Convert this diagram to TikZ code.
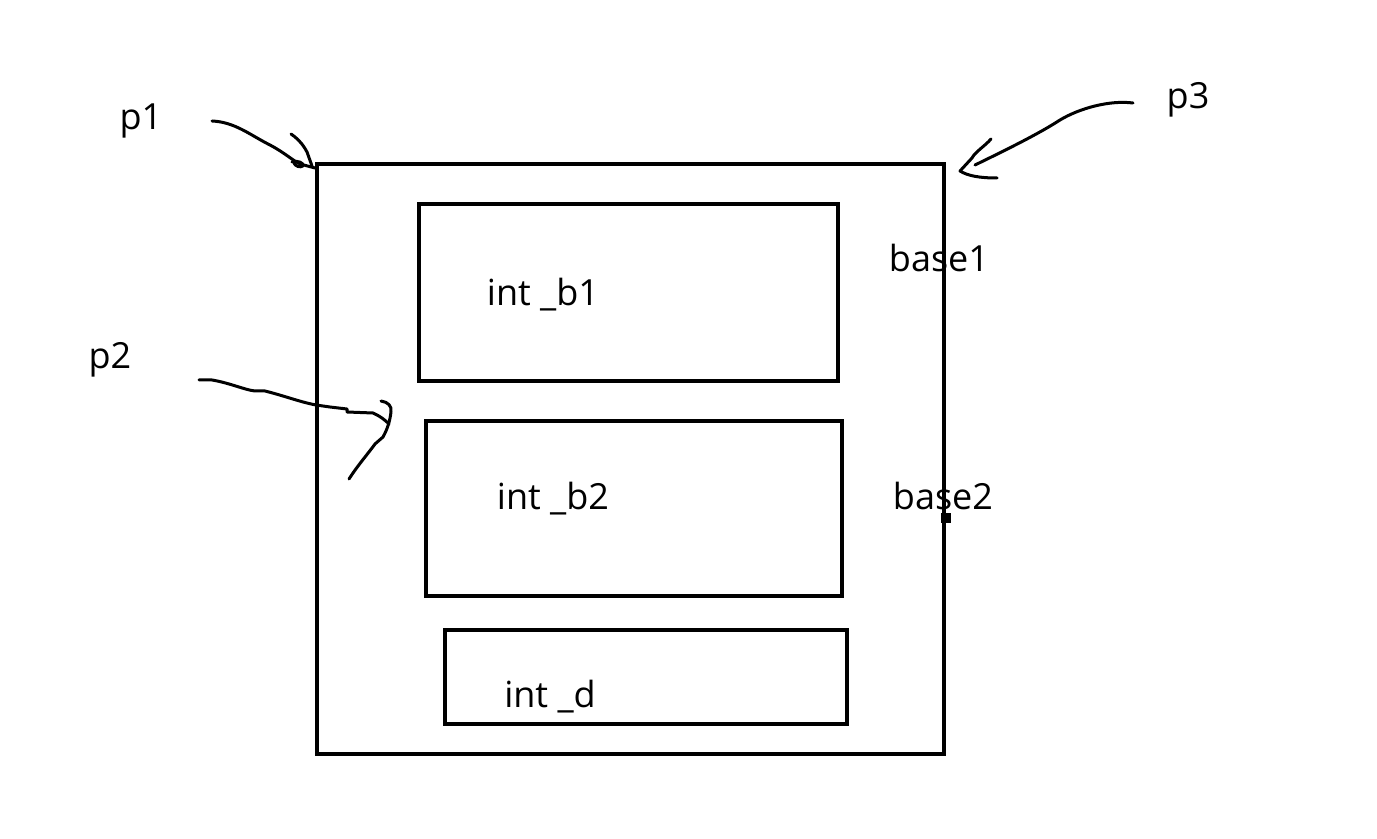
\documentclass[tikz,border=0pt]{standalone}
\usepackage{fontspec}
\setmainfont{Open Sans}
\begin{document}
\begin{tikzpicture}[x=0.5pt,y=-0.5pt,
  box/.style={draw=black,line width=2.3pt,inner sep=0pt,fill=none},
  lbl/.style={inner sep=0pt,font=\fontsize{18}{22}\selectfont},
  ink/.style={draw=black,line width=1.5pt,line cap=round,line join=round}]
\useasboundingbox (0,0) rectangle (1377,839);
\node[box,minimum width=313.5pt,minimum height=295pt] (outer) at (630.5,459) {};
\node[box,minimum width=209.5pt,minimum height=88.5pt] (b1) at (628.5,292.5) {};
\node[box,minimum width=208pt,minimum height=87.5pt] (b2) at (634,508.5) {};
\node[box,minimum width=201pt,minimum height=47pt] (bd) at (646,677) {};
\node[lbl] (tb1) at (543,295) {int \_b1};
\node[lbl] (tb2) at (553,499) {int \_b2};
\node[lbl] (td) at (550,697) {int \_d};
\node[lbl] (p1) at (141,121) {p1};
\node[lbl] (p2) at (110,360) {p2};
\node[lbl] (p3) at (1188,100) {p3};
\node[lbl] (base1) at (939,258) {base1};
\node[lbl] (base2) at (943,496) {base2};
\node[draw=black,fill=black,inner sep=0pt,minimum size=4.5pt] (sq) at (946,518) {};
% p1 arrow
\draw[ink] (212,121) .. controls (235,122) and (250,135) .. (270,145)
  .. controls (285,153) and (292,160) .. (300,164) -- (315,168);
\draw[ink] (291,134) .. controls (300,140) and (305,148) .. (307,152) -- (312,166);
\draw[ink] (292,162) .. controls (298,160) and (304,163) .. (303,166) .. controls (300,168) and (295,166) .. (294,163);
% p3 arrow
\draw[ink] (1133,103) .. controls (1110,100) and (1080,108) .. (1060,120)
  .. controls (1040,133) and (1010,148) .. (975,165);
\draw[ink] (991,139) .. controls (985,146) and (975,152) .. (972,158) -- (960,171) .. controls (968,176) and (980,178) .. (997,178);
% p2 curve
\draw[ink] (199,380) -- (212,380) .. controls (230,383) and (245,390) .. (255,391) -- (265,391)
  .. controls (285,396) and (300,402) .. (316,405) -- (330,407) -- (347,409) -- (347,412) -- (373,413)
  .. controls (380,416) and (385,420) .. (389,424);
\draw[ink] (381,401) .. controls (388,402) and (392,406) .. (391,412)
  .. controls (390,420) and (388,428) .. (383,437) -- (375,444) .. controls (367,455) and (358,465) .. (349,479);
\end{tikzpicture}
\end{document}
